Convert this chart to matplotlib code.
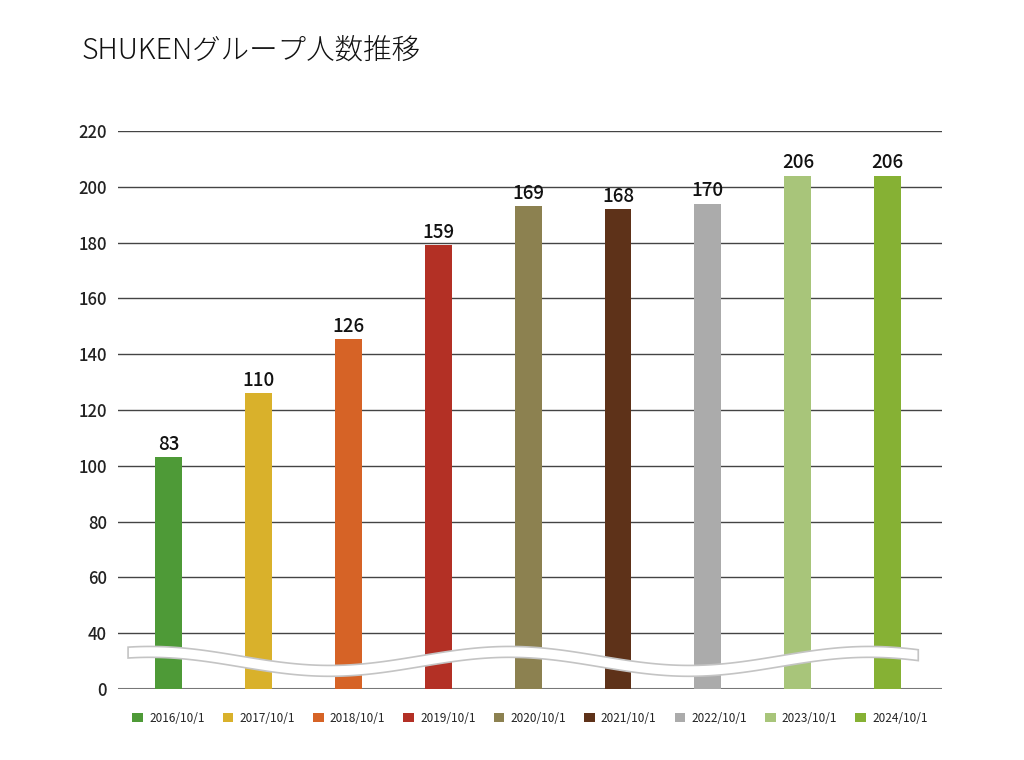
import numpy as np
import matplotlib
matplotlib.use("Agg")
import matplotlib.pyplot as plt
from matplotlib.patches import Patch

plt.rcParams['font.family'] = ['Noto Sans CJK JP', 'DejaVu Sans']

title = "SHUKENグループ人数推移"
categories = ["2016/10/1", "2017/10/1", "2018/10/1", "2019/10/1", "2020/10/1",
              "2021/10/1", "2022/10/1", "2023/10/1", "2024/10/1"]
# labelled values (real head count)
labels = [83, 110, 126, 159, 169, 168, 170, 206, 206]
# drawn bar heights on the (broken) axis scale
heights = [103, 126, 145.5, 179, 193, 192, 194, 204, 204]
colors = ["#4e9a37", "#d9b12b", "#d66326", "#b33025", "#8c8150",
          "#5e3219", "#ababab", "#a8c57a", "#86b134"]
tick_pos = [20, 40, 60, 80, 100, 120, 140, 160, 180, 200, 220]
tick_lab = ["0", "40", "60", "80", "100", "120", "140", "160", "180", "200", "220"]
base = 20

fig = plt.figure(figsize=(10.24, 7.6), dpi=100)
ax = fig.add_axes([118/1024, 1-689/760, 824/1024, 558/760])

x = np.arange(len(categories))
bars = ax.bar(x, np.array(heights) - base, bottom=base, width=0.30, color=colors, zorder=3)
for xi, h, lab in zip(x, heights, labels):
    ax.text(xi, h + 1.2, str(lab), ha='center', va='bottom', fontsize=13.5,
            fontweight='medium', color='#111111', zorder=5)

ax.set_ylim(base, 220)
ax.set_xlim(-0.562, 8.604)
ax.set_yticks(tick_pos)
ax.set_yticklabels(tick_lab, fontsize=12, fontweight='medium', color='#222222')
ax.set_xticks([])
ax.tick_params(axis='y', length=0, pad=8)
for s in ax.spines.values():
    s.set_visible(False)
for t in tick_pos:
    ax.axhline(t, color='#444444' if t != base else '#777777', lw=1.0 if t != base else 1.5, zorder=1)

# wavy break band
wx = np.linspace(-0.45, 8.34, 400)
center = 29.9 + 3.4 * np.cos(2 * np.pi * (wx + 0.206) / 4.0)
half = 1.95
top = center + half
bot = center - half
poly_x = np.concatenate([wx, wx[::-1]])
poly_y = np.concatenate([top, bot[::-1]])
ax.fill(poly_x, poly_y, facecolor='white', edgecolor='#c4c4c4', lw=1.2, zorder=4)

handles = [Patch(facecolor=c, edgecolor='none') for c in colors]
leg = ax.legend(handles, categories, loc='center', bbox_to_anchor=(0.5, -0.052), ncol=9,
                frameon=False, fontsize=8.5, handlelength=0.9, handleheight=0.9,
                handletextpad=0.5, columnspacing=1.55)
for t in leg.get_texts():
    t.set_color('#222222')

fig.text(82/1024, 1-50/760, title, fontsize=20.5, fontweight='light',
         va='center', ha='left', color='#111111')

fig.savefig("out.png", dpi=100)
